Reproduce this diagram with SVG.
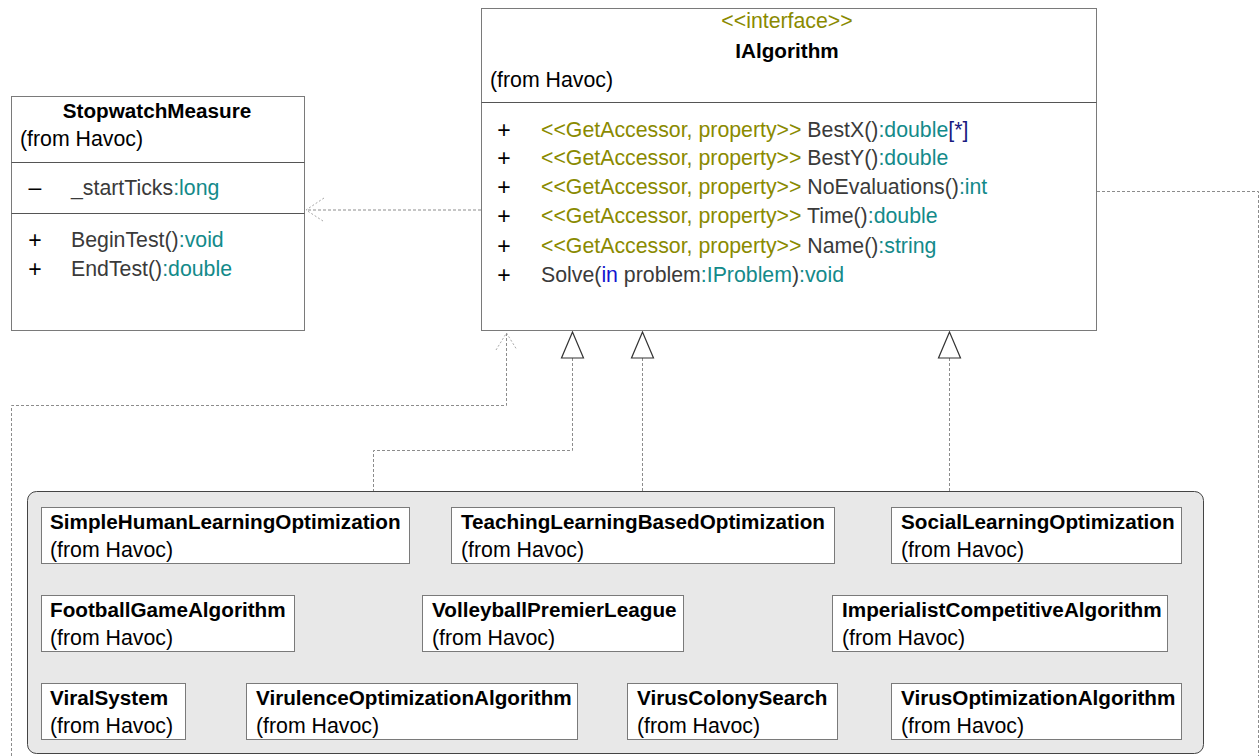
<svg xmlns="http://www.w3.org/2000/svg" width="1260" height="756" viewBox="0 0 1260 756">
<style>
text{font-family:"Liberation Sans",Arial,sans-serif;font-size:21.3px;fill:#3a3a3a}
.b{font-weight:bold;fill:#000;font-size:20.7px}
.n{fill:#000}
.st{fill:#8a8a00}
.ty{fill:#138a8a}
.kw{fill:#1515d0}
.mul{fill:#1a1a80}
.pm{fill:#000;font-size:23px;text-anchor:middle}
.cls{fill:#fff;stroke:#7a7a7a;stroke-width:1}
.div{stroke:#555;stroke-width:1}
.con{fill:none;stroke:#8c8c8c;stroke-width:1;stroke-dasharray:3 2}
.dep{fill:none;stroke:#a8a8a8;stroke-width:1;stroke-dasharray:2 2}
.tri{fill:#fff;stroke:#333;stroke-width:1.2}
</style>
<rect width="1260" height="756" fill="#fff"/>
<g id="connectors">
<path class="con" d="M481,210 H306"/>
<path class="dep" d="M324,198 L306,210 L323,221"/>
<path class="con" d="M1097,191.5 H1258.5 V756"/>
<path class="con" d="M506.5,333 V405.5 H11.5 V756"/>
<path class="dep" d="M496,350 L506.5,333 L517,350"/>
<path class="con" d="M572.5,358 V450.5 H373.5 V507"/>
<path class="con" d="M642.5,358 V507"/>
<path class="con" d="M949.5,358 V507"/>
<polygon class="tri" points="572.5,332 561.5,358 583.5,358"/>
<polygon class="tri" points="642.5,332 631.5,358 653.5,358"/>
<polygon class="tri" points="949.5,332 938.5,358 960.5,358"/>
</g>
<g id="IAlgorithm">
<rect class="cls" x="481.5" y="8.5" width="615" height="322"/>
<line class="div" x1="481.5" y1="102.5" x2="1096.5" y2="102.5"/>
<text class="st" x="787" y="28" text-anchor="middle">&lt;&lt;interface&gt;&gt;</text>
<text class="b" x="787" y="58" text-anchor="middle">IAlgorithm</text>
<text class="n" x="490" y="87">(from Havoc)</text>
<text class="pm" x="504" y="138">+</text>
<text x="541" y="137"><tspan class="st">&lt;&lt;GetAccessor, property&gt;&gt; </tspan>BestX()<tspan class="ty">:double</tspan><tspan class="mul">[*]</tspan></text>
<text class="pm" x="504" y="166">+</text>
<text x="541" y="165"><tspan class="st">&lt;&lt;GetAccessor, property&gt;&gt; </tspan>BestY()<tspan class="ty">:double</tspan></text>
<text class="pm" x="504" y="195">+</text>
<text x="541" y="194"><tspan class="st">&lt;&lt;GetAccessor, property&gt;&gt; </tspan>NoEvaluations()<tspan class="ty">:int</tspan></text>
<text class="pm" x="504" y="224">+</text>
<text x="541" y="223"><tspan class="st">&lt;&lt;GetAccessor, property&gt;&gt; </tspan>Time()<tspan class="ty">:double</tspan></text>
<text class="pm" x="504" y="254">+</text>
<text x="541" y="253"><tspan class="st">&lt;&lt;GetAccessor, property&gt;&gt; </tspan>Name()<tspan class="ty">:string</tspan></text>
<text class="pm" x="504" y="283">+</text>
<text x="541" y="282">Solve(<tspan class="kw">in</tspan> problem<tspan class="ty">:IProblem</tspan>)<tspan class="ty">:void</tspan></text>
</g>
<g id="StopwatchMeasure">
<rect class="cls" x="11.5" y="96.5" width="293" height="234"/>
<line class="div" x1="11.5" y1="162.5" x2="304.5" y2="162.5"/>
<line class="div" x1="11.5" y1="213.5" x2="304.5" y2="213.5"/>
<text class="b" x="157" y="118" text-anchor="middle">StopwatchMeasure</text>
<text class="n" x="20" y="146">(from Havoc)</text>
<text class="pm" x="35" y="195">–</text>
<text x="71" y="195">_startTicks<tspan class="ty">:long</tspan></text>
<text class="pm" x="35" y="248">+</text>
<text x="71" y="247">BeginTest()<tspan class="ty">:void</tspan></text>
<text class="pm" x="35" y="277">+</text>
<text x="71" y="276">EndTest()<tspan class="ty">:double</tspan></text>
</g>
<g id="package">
<rect x="27.5" y="491.5" width="1176" height="262" rx="9" fill="#e8e8e8" stroke="#444" stroke-width="1"/>
</g>
<g id="SimpleHumanLearningOptimization">
<rect class="cls" x="41.5" y="507.5" width="368" height="56"/>
<text class="b" x="50" y="529">SimpleHumanLearningOptimization</text>
<text class="n" x="50" y="557">(from Havoc)</text>
</g>
<g id="TeachingLearningBasedOptimization">
<rect class="cls" x="451.5" y="507.5" width="383" height="56"/>
<text class="b" x="461" y="529">TeachingLearningBasedOptimization</text>
<text class="n" x="461" y="557">(from Havoc)</text>
</g>
<g id="SocialLearningOptimization">
<rect class="cls" x="891.5" y="507.5" width="290" height="56"/>
<text class="b" x="901" y="529">SocialLearningOptimization</text>
<text class="n" x="901" y="557">(from Havoc)</text>
</g>
<g id="FootballGameAlgorithm">
<rect class="cls" x="41.5" y="595.5" width="253" height="56"/>
<text class="b" x="50" y="617">FootballGameAlgorithm</text>
<text class="n" x="50" y="645">(from Havoc)</text>
</g>
<g id="VolleyballPremierLeague">
<rect class="cls" x="422.5" y="595.5" width="261" height="56"/>
<text class="b" x="432" y="617">VolleyballPremierLeague</text>
<text class="n" x="432" y="645">(from Havoc)</text>
</g>
<g id="ImperialistCompetitiveAlgorithm">
<rect class="cls" x="832.5" y="595.5" width="335" height="56"/>
<text class="b" x="842" y="617">ImperialistCompetitiveAlgorithm</text>
<text class="n" x="842" y="645">(from Havoc)</text>
</g>
<g id="ViralSystem">
<rect class="cls" x="41.5" y="683.5" width="144" height="56"/>
<text class="b" x="50" y="705">ViralSystem</text>
<text class="n" x="50" y="733">(from Havoc)</text>
</g>
<g id="VirulenceOptimizationAlgorithm">
<rect class="cls" x="246.5" y="683.5" width="331" height="56"/>
<text class="b" x="256" y="705">VirulenceOptimizationAlgorithm</text>
<text class="n" x="256" y="733">(from Havoc)</text>
</g>
<g id="VirusColonySearch">
<rect class="cls" x="627.5" y="683.5" width="210" height="56"/>
<text class="b" x="637" y="705">VirusColonySearch</text>
<text class="n" x="637" y="733">(from Havoc)</text>
</g>
<g id="VirusOptimizationAlgorithm">
<rect class="cls" x="891.5" y="683.5" width="290" height="56"/>
<text class="b" x="901" y="705">VirusOptimizationAlgorithm</text>
<text class="n" x="901" y="733">(from Havoc)</text>
</g>
</svg>
